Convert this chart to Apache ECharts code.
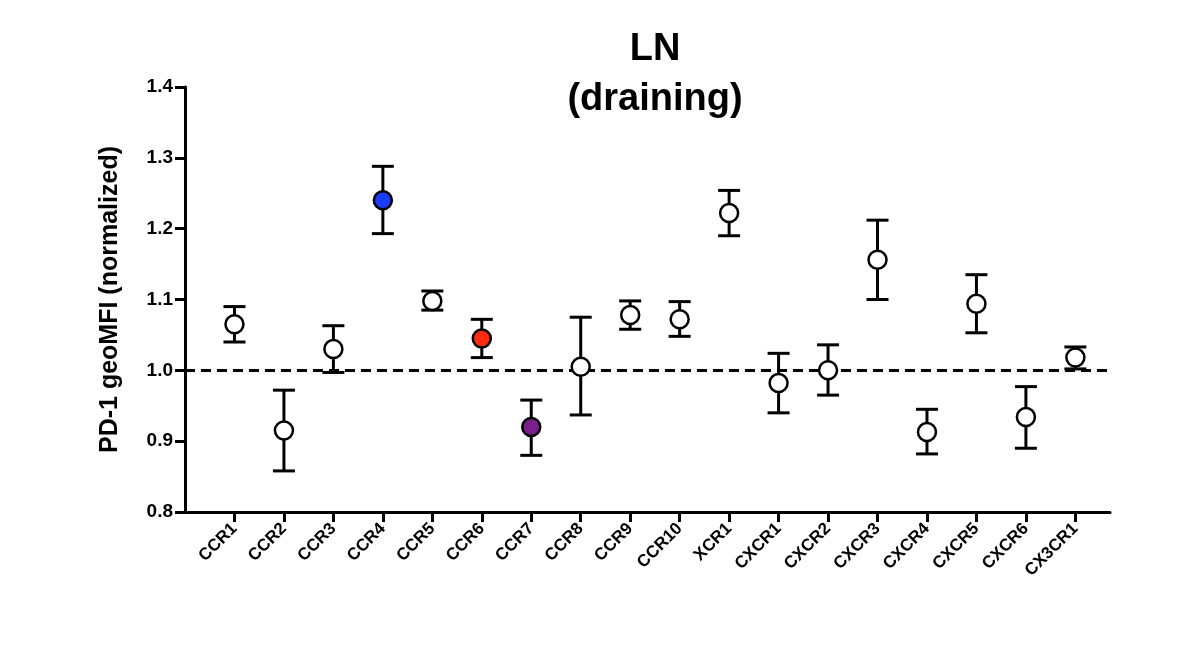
<!DOCTYPE html>
<html><head><meta charset="utf-8">
<script src="https://cdn.jsdelivr.net/npm/echarts@6/dist/echarts.min.js"></script>
<style>html,body{margin:0;background:#fff}#c{width:1200px;height:664px}</style>
</head><body><div id="c"></div>
<script>
const categories=['CCR1','CCR2','CCR3','CCR4','CCR5','CCR6','CCR7','CCR8','CCR9','CCR10','XCR1','CXCR1','CXCR2','CXCR3','CXCR4','CXCR5','CXCR6','CX3CR1'];
const means=[1.065,0.915,1.03,1.24,1.098,1.045,0.92,1.005,1.078,1.072,1.222,0.982,1.0,1.156,0.913,1.094,0.934,1.018];
const lows=[1.04,0.858,0.997,1.193,1.085,1.018,0.88,0.937,1.058,1.048,1.19,0.94,0.965,1.1,0.882,1.053,0.89,1.002];
const highs=[1.09,0.972,1.063,1.288,1.112,1.072,0.958,1.075,1.098,1.097,1.254,1.024,1.036,1.212,0.945,1.135,0.977,1.033];
const fills={3:'#1a3cff',5:'#ff2a10',6:'#7b1f8c'};
const ch=echarts.init(document.getElementById('c'));
const F='Liberation Sans, Arial, sans-serif';
const idx=categories.map((c,i)=>i);
ch.setOption({
 animation:false,
 title:{text:'LN\n(draining)',left:650,textAlign:'center',top:20,textStyle:{fontFamily:F,fontSize:38,fontWeight:'bold',color:'#000',lineHeight:50}},
 grid:{left:185,right:90,top:87,bottom:152},
 xAxis:{type:'value',min:-1,max:17.7,interval:1,
  axisLine:{onZero:false,lineStyle:{color:'#000',width:3}},axisTick:{customValues:idx,lineStyle:{color:'#000',width:3},length:10},
  splitLine:{show:false},
  axisLabel:{customValues:idx,rotate:45,fontFamily:F,fontWeight:'bold',fontSize:17,color:'#000',margin:14,
   formatter:v=>categories[Math.round(v)]||''}},
 yAxis:{type:'value',min:0.8,max:1.4,interval:0.1,name:'PD-1 geoMFI (normalized)',nameLocation:'middle',nameGap:62,
  nameTextStyle:{fontFamily:F,fontWeight:'bold',fontSize:25,color:'#000'},
  axisLine:{show:true,onZero:false,lineStyle:{color:'#000',width:3}},axisTick:{show:true,lineStyle:{color:'#000',width:3},length:10},
  splitLine:{show:false},
  axisLabel:{fontFamily:F,fontWeight:'bold',fontSize:19,color:'#000',margin:12,formatter:v=>v.toFixed(1)}},
 series:[
  {type:'custom',data:categories.map((c,i)=>[i,lows[i],highs[i]]),z:2,
   renderItem:(p,api)=>{const lo=api.coord([api.value(0),api.value(1)]),hi=api.coord([api.value(0),api.value(2)]);const w=11;
    const st={stroke:'#000',lineWidth:3};
    return {type:'group',children:[
     {type:'line',shape:{x1:lo[0],y1:lo[1],x2:hi[0],y2:hi[1]},style:st},
     {type:'line',shape:{x1:lo[0]-w,y1:lo[1],x2:lo[0]+w,y2:lo[1]},style:st},
     {type:'line',shape:{x1:hi[0]-w,y1:hi[1],x2:hi[0]+w,y2:hi[1]},style:st}]};}},
  {type:'scatter',symbolSize:18,z:5,
   data:means.map((m,i)=>({value:[i,m],itemStyle:{opacity:1,color:fills[i]||'#fff',borderColor:'#000',borderWidth:2.5}})),
   markLine:{silent:true,symbol:'none',label:{show:false},lineStyle:{color:'#000',type:[10,6],width:3},data:[{yAxis:1.0}]}}
 ]});
</script></body></html>
